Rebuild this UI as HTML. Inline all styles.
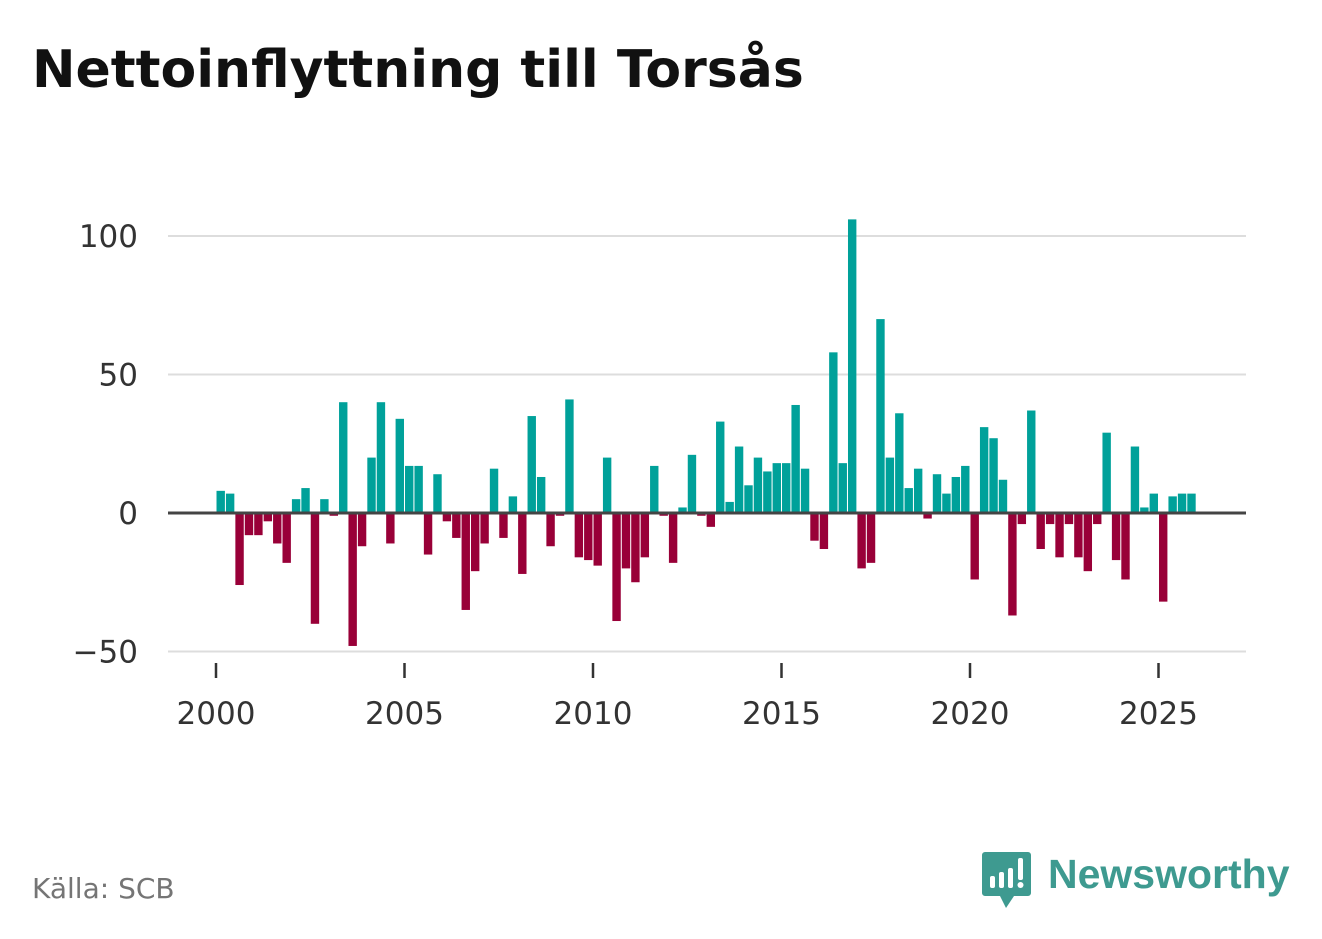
<!DOCTYPE html>
<html><head><meta charset="utf-8">
<style>
body{margin:0;background:#fff;width:1322px;height:939px;overflow:hidden;font-family:"DejaVu Sans",sans-serif;}
#title{position:absolute;left:32px;top:40px;font-size:52px;font-weight:bold;color:#111;margin:0;white-space:nowrap}
#source{position:absolute;left:32px;top:872px;font-size:28px;color:#757575}
#logo{position:absolute;left:980px;top:850px}
</style></head><body>
<h1 id="title">Nettoinflyttning till Torsås</h1>
<svg id="chart" width="1322" height="939" style="position:absolute;left:0;top:0"></svg>
<div id="source">Källa: SCB</div>
<svg id="logo" width="320" height="70">
<path d="M2 2 h46 a3 3 0 0 1 3 3 v38 a3 3 0 0 1 -3 3 h-14 l-8 12 l-6 -12 h-15 a3 3 0 0 1 -3 -3 v-38 a3 3 0 0 1 3 -3z" fill="#3e9a90"/>
<rect x="10" y="26" width="5" height="12" rx="2" fill="#fff"/><rect x="19" y="22" width="5" height="16" rx="2" fill="#fff"/><rect x="28" y="18" width="5" height="20" rx="2" fill="#fff"/><rect x="38" y="8" width="5" height="22" rx="2" fill="#fff"/><circle cx="40.5" cy="35" r="3" fill="#fff"/>
<text x="68" y="38" font-family="Liberation Sans, sans-serif" font-size="41" font-weight="bold" fill="#3e9a90">Newsworthy</text>
</svg>
<script>
const years=[2000,2005,2010,2015,2020,2025];
const yTicks=[100,50,0,-50];
const yTickLabels=["100","50","0","\u221250"];
const values=[8,7,-26,-8, -8,-3,-11,-18, 5,9,-40,5, -1,40,-48,-12, 20,40,-11,34,
17,17,-15,14, -3,-9,-35,-21, -11,16,-9,6, -22,35,13,-12, -1,41,-16,-17,
-19,20,-39,-20, -25,-16,17,-1, -18,2,21,-1, -5,33,4,24, 10,20,15,18,
18,39,16,-10, -13,58,18,106, -20,-18,70,20, 36,9,16,-2, 14,7,13,17,
-24,31,27,12, -37,-4,37,-13, -4,-16,-4,-16, -21,-4,29,-17, -24,24,2,7, -32,6,7,7];
const NS='http://www.w3.org/2000/svg';
const svg=document.getElementById('chart');
const y=v=>513-v*2.77;
const x=t=>216+(t-2000)*37.7;
function mk(tag,attrs){const e=document.createElementNS(NS,tag);for(const k in attrs)e.setAttribute(k,attrs[k]);svg.appendChild(e);return e;}
yTicks.forEach((t,i)=>{
  if(t!==0){const g=mk('line',{x1:168,x2:1246,y1:y(t),y2:y(t),stroke:'#dddddd','stroke-width':2});
  
  }
  const l=mk('text',{x:138,y:y(t)+11,'text-anchor':'end','font-size':31,fill:'#333','font-family':'DejaVu Sans, sans-serif'});
  l.textContent=yTickLabels[i];
  
  
});
values.forEach((v,i)=>{
  const cx=x(2000+(i+0.5)/4);
  const r=mk('rect',{x:cx-4.2,width:8.4,y:v>=0?y(v):y(0),height:Math.abs(v)*2.77,fill:v>=0?'#00a19a':'#990038'});
  
  
});
const z=mk('line',{x1:168,x2:1246,y1:y(0),y2:y(0),stroke:'#444','stroke-width':3});


years.forEach(t=>{
  const tk=mk('line',{x1:x(t),x2:x(t),y1:663,y2:678,stroke:'#333','stroke-width':2.5});
  
  
  const l=mk('text',{x:x(t),y:724,'text-anchor':'middle','font-size':31,fill:'#333','font-family':'DejaVu Sans, sans-serif'});
  l.textContent=t;
  
  
});
</script>
</body></html>
